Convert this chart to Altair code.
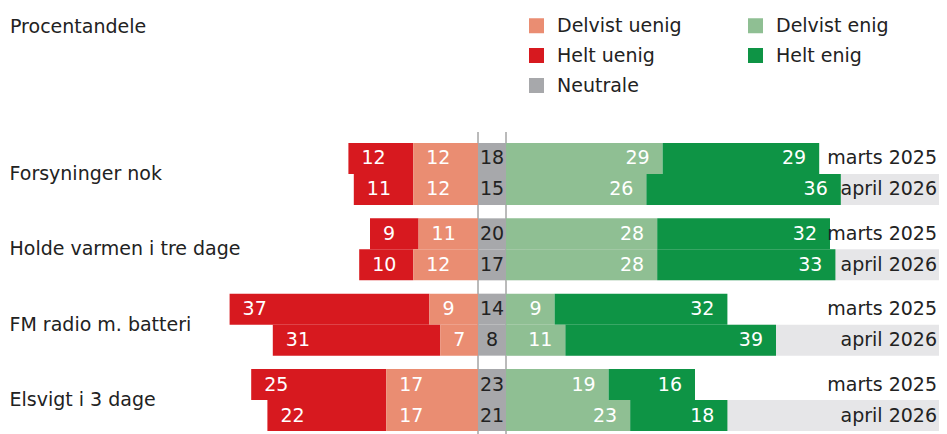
import altair as alt
import pandas as pd

# ---- data ----
categories = ["Forsyninger nok", "Holde varmen i tre dage", "FM radio m. batteri", "Elsvigt i 3 dage"]
periods = ["marts 2025", "april 2026"]
responses = ["Helt uenig", "Delvist uenig", "Neutrale", "Delvist enig", "Helt enig"]

helt_uenig = [[12, 11], [9, 10], [37, 31], [25, 22]]
delvist_uenig = [[12, 12], [11, 12], [9, 7], [17, 17]]
neutrale = [[18, 15], [20, 17], [14, 8], [23, 21]]
delvist_enig = [[29, 26], [28, 28], [9, 11], [19, 23]]
helt_enig = [[29, 36], [32, 33], [32, 39], [16, 18]]

legend_order = ["Delvist uenig", "Helt uenig", "Neutrale", "Delvist enig", "Helt enig"]
legend_colors = ["#ea8d72", "#d7191f", "#a7a8ab", "#8fbf93", "#0e9445"]
chart_title = "Procentandele"

FONT = "DejaVu Sans"
PX_PER_UNIT = 5.4
W, H = 931, 288
G = 14 / PX_PER_UNIT            # half-width of the fixed neutral column (in units)
XMIN = -484 / PX_PER_UNIT
XMAX = (W - 484) / PX_PER_UNIT

# ---- build tables ----
rows = []
for i, cat in enumerate(categories):
    for j, per in enumerate(periods):
        hu, du, ne, de, he = (helt_uenig[i][j], delvist_uenig[i][j], neutrale[i][j],
                              delvist_enig[i][j], helt_enig[i][j])
        segs = [
            ("Helt uenig", -(G + du + hu), -(G + du), hu, "left"),
            ("Delvist uenig", -(G + du), -G, du, "left"),
            ("Neutrale", -G, G, ne, "mid"),
            ("Delvist enig", G, G + de, de, "right"),
            ("Helt enig", G + de, G + de + he, he, "right"),
        ]
        for resp, x0, x1, v, side in segs:
            rows.append(dict(category=cat, period=per, response=resp, x0=x0, x1=x1,
                             value=v, side=side, xc=(x0 + x1) / 2))
df = pd.DataFrame(rows)

bg = pd.DataFrame([dict(category=c, period=periods[1], x0=G, x1=XMAX) for c in categories])
dates = pd.DataFrame([dict(category=c, period=p, x=XMAX) for c in categories for p in periods])
lines = pd.DataFrame({"x": [-G, G]})

xscale = alt.Scale(domain=[XMIN, XMAX], range=[0, W], nice=False, zero=False)
yenc = alt.Y("category:N", sort=categories,
             scale=alt.Scale(paddingInner=0.177, paddingOuter=0),
             axis=alt.Axis(title=None, domain=False, ticks=False, tickSize=0,
                           labelAlign="left", labelPadding=-1, labelFontSize=19,
                           labelFont=FONT, labelColor="#222222", labelLimit=400))
yoff = alt.YOffset("period:N", sort=periods, scale=alt.Scale(paddingInner=0, paddingOuter=0))

rules = alt.Chart(lines).mark_rule(color="#777777", strokeWidth=1).encode(
    x=alt.X("x:Q", scale=xscale, axis=None),
    y=alt.value(-11), y2=alt.value(H + 3))

background = alt.Chart(bg).mark_bar(color="#e6e6e8").encode(
    x=alt.X("x0:Q", scale=xscale, axis=None), x2="x1:Q", y=yenc, yOffset=yoff)

bars = alt.Chart(df).mark_bar().encode(
    x=alt.X("x0:Q", scale=xscale, axis=None), x2="x1:Q", y=yenc, yOffset=yoff,
    color=alt.Color("response:N",
                    scale=alt.Scale(domain=legend_order, range=legend_colors),
                    legend=alt.Legend(orient="none", legendX=519, legendY=-127, columns=2,
                                      title=None, symbolType="square", symbolSize=225,
                                      symbolStrokeWidth=0, labelFontSize=19, labelFont=FONT,
                                      labelColor="#222222", columnPadding=64, rowPadding=10,
                                      labelOffset=11, padding=0, values=legend_order)))

txt_left = alt.Chart(df).transform_filter(alt.datum.side == "left").mark_text(
    align="left", baseline="middle", dx=13, fontSize=19, font=FONT, color="white").encode(
    x=alt.X("x0:Q", scale=xscale, axis=None), y=yenc, yOffset=yoff, text="value:Q")

txt_right = alt.Chart(df).transform_filter(alt.datum.side == "right").mark_text(
    align="right", baseline="middle", dx=-13, fontSize=19, font=FONT, color="white").encode(
    x=alt.X("x1:Q", scale=xscale, axis=None), y=yenc, yOffset=yoff, text="value:Q")

txt_mid = alt.Chart(df).transform_filter(alt.datum.side == "mid").mark_text(
    align="center", baseline="middle", fontSize=19, font=FONT, color="#222222").encode(
    x=alt.X("xc:Q", scale=xscale, axis=None), y=yenc, yOffset=yoff, text="value:Q")

txt_dates = alt.Chart(dates).mark_text(
    align="right", baseline="middle", dx=-2, fontSize=19, font=FONT, color="#222222").encode(
    x=alt.X("x:Q", scale=xscale, axis=None), y=yenc, yOffset=yoff, text="period:N")

title_txt = alt.Chart(pd.DataFrame({"t": [chart_title]})).mark_text(
    align="left", baseline="middle", fontSize=19, font=FONT, color="#222222").encode(
    x=alt.value(2), y=alt.value(-116), text="t:N")

chart = alt.layer(rules, background, bars, txt_left, txt_right, txt_mid, txt_dates,
                  title_txt).properties(
    width=W, height=H,
    padding={"left": 0, "top": 135, "right": 0, "bottom": 3},
    autosize=alt.AutoSizeParams(type="none"),
).configure(background="white").configure_view(stroke=None)

chart.save("out.html", embed_options={"renderer": "svg", "actions": False})
